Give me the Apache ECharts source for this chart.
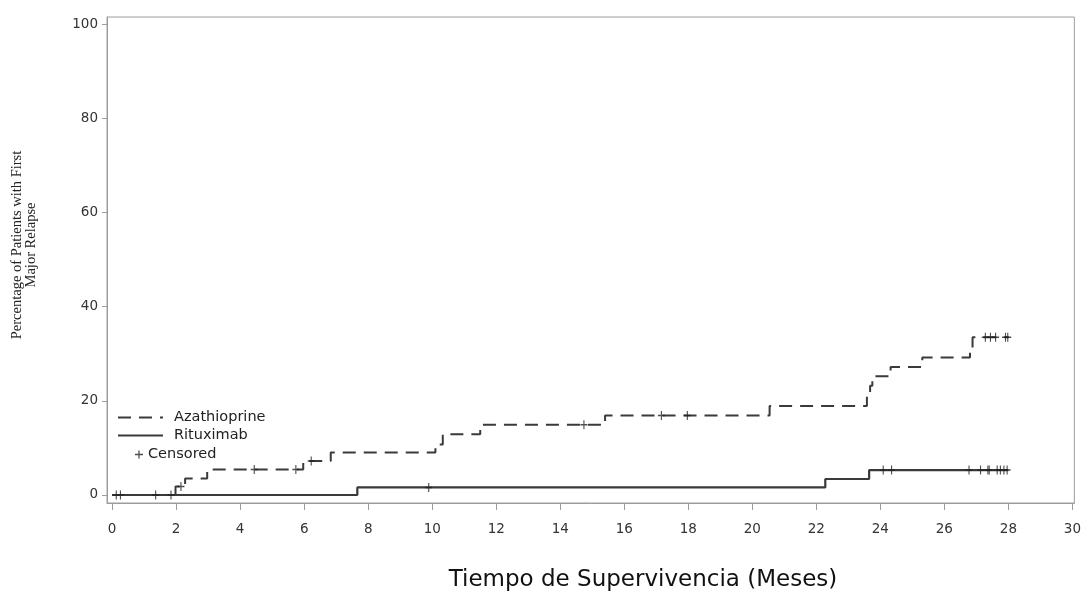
<!DOCTYPE html>
<html>
<head>
<meta charset="utf-8">
<script src="https://cdn.jsdelivr.net/npm/echarts@6/dist/echarts.min.js"></script>
<style>
html,body{margin:0;padding:0;background:#fff;}
#chart{width:1084px;height:604px;}
</style>
</head>
<body>
<div id="chart"></div>
<script>
// ---- data ----
const xTicks = [0, 2, 4, 6, 8, 10, 12, 14, 16, 18, 20, 22, 24, 26, 28, 30];
const yTicks = [0, 20, 40, 60, 80, 100];

const azaTimes  = [0, 1.98, 2.28, 2.97, 5.97, 6.83, 10.10, 10.33, 11.50, 15.40, 20.54, 23.58, 23.68, 23.75, 24.32, 25.31, 26.80, 26.88, 28.00];
const azaValues = [0, 1.8, 3.5, 5.4, 7.2, 9.0, 10.7, 12.9, 14.9, 16.9, 18.9, 21.0, 23.2, 25.2, 27.2, 29.2, 31.3, 33.5, 33.5];
const azaCensored = [1.36, 1.84, 2.15, 4.44, 5.74, 6.22, 14.74, 17.16, 17.97, 27.28, 27.44, 27.60, 27.91, 27.98];

const ritTimes  = [0, 7.66, 22.28, 23.65, 28.00];
const ritValues = [0, 1.6, 3.4, 5.3, 5.3];
const ritCensored = [0.13, 0.26, 9.89, 24.09, 24.35, 26.77, 27.13, 27.36, 27.40, 27.65, 27.75, 27.86, 27.96];

const xTitle = 'Tiempo de Supervivencia (Meses)';
const yTitle = 'Percentage of Patients with First\nMajor Relapse';

// ---- helpers ----
function stepAt(times, values, t) {
  let v = values[0];
  for (let i = 0; i < times.length; i++) { if (times[i] <= t) v = values[i]; }
  return v;
}
const azaLine = azaTimes.map((t, i) => [t, azaValues[i]]);
const ritLine = ritTimes.map((t, i) => [t, ritValues[i]]);
const censoredPts = azaCensored.map(t => [t, stepAt(azaTimes, azaValues, t)])
  .concat(ritCensored.map(t => [t, stepAt(ritTimes, ritValues, t)]));

const plusPath = 'path://M4.2,0H5.8V4.2H10V5.8H5.8V10H4.2V5.8H0V4.2H4.2Z';
const ink = '#3a3a3a';
const frame = '#9c9c9c';
const font = 'DejaVu Sans';

const chart = echarts.init(document.getElementById('chart'), null, {renderer: 'canvas'});
chart.setOption({
  animation: false,
  backgroundColor: '#ffffff',
  grid: {left: 107, right: 8, top: 17, bottom: 101, show: true, borderColor: frame, borderWidth: 1, backgroundColor: 'transparent'},
  xAxis: {
    type: 'value', min: -0.16, max: 30.06, position: 'bottom',
    axisLine: {show: true, onZero: false, lineStyle: {color: frame, width: 1}},
    axisTick: {show: true, inside: false, length: 7, lineStyle: {color: frame, width: 1}, customValues: xTicks},
    axisLabel: {color: '#333', fontFamily: font, fontSize: 13.5, margin: 19, customValues: xTicks},
    splitLine: {show: false}
  },
  yAxis: {
    type: 'value', min: -1.7, max: 101.5, position: 'left',
    axisLine: {show: true, onZero: false, lineStyle: {color: frame, width: 1}},
    axisTick: {show: true, inside: false, length: 5, lineStyle: {color: frame, width: 1}, customValues: yTicks},
    axisLabel: {color: '#333', fontFamily: font, fontSize: 13.5, margin: 9, customValues: yTicks},
    splitLine: {show: false}
  },
  legend: [
    {
      orient: 'vertical', left: 117, top: 410, padding: 0, itemWidth: 45, itemHeight: 14, itemGap: 3,
      data: ['Azathioprine', 'Rituximab'],
      itemStyle: {color: 'rgba(0,0,0,0)', borderColor: 'rgba(0,0,0,0)', borderWidth: 0, opacity: 0},
      textStyle: {color: '#222', fontFamily: font, fontSize: 14.5, padding: [0, 0, 0, 6]},
      selectedMode: false
    },
    {
      orient: 'vertical', left: 135, top: 447, padding: 0, itemWidth: 8, itemHeight: 9,
      data: ['Censored'],
      textStyle: {color: '#222', fontFamily: font, fontSize: 14.5},
      selectedMode: false
    }
  ],
  series: [
    {
      name: 'Azathioprine', type: 'line', step: 'end', data: azaLine,
      symbol: 'none', showSymbol: false, clip: false,
      lineStyle: {color: ink, width: 2, type: [13, 8]},
      itemStyle: {color: ink}
    },
    {
      name: 'Rituximab', type: 'line', step: 'end', data: ritLine,
      symbol: 'none', showSymbol: false, clip: false,
      lineStyle: {color: ink, width: 2.2, type: 'solid'},
      itemStyle: {color: ink}, z: 3
    },
    {
      name: 'Censored', type: 'scatter', data: censoredPts,
      symbol: plusPath, symbolSize: [7, 9],
      itemStyle: {color: '#222'}, z: 4
    }
  ],
  graphic: [
    {
      type: 'text', x: 643, y: 580,
      style: {text: xTitle, textAlign: 'center', textVerticalAlign: 'middle', fill: '#111', font: '23px "DejaVu Sans"'}
    },
    {
      type: 'text', x: 24, y: 245, rotation: Math.PI / 2,
      style: {text: yTitle, textAlign: 'center', textVerticalAlign: 'middle', fill: '#222', font: '14.5px "Liberation Serif"', lineHeight: 14}
    }
  ]
});
</script>
</body>
</html>
